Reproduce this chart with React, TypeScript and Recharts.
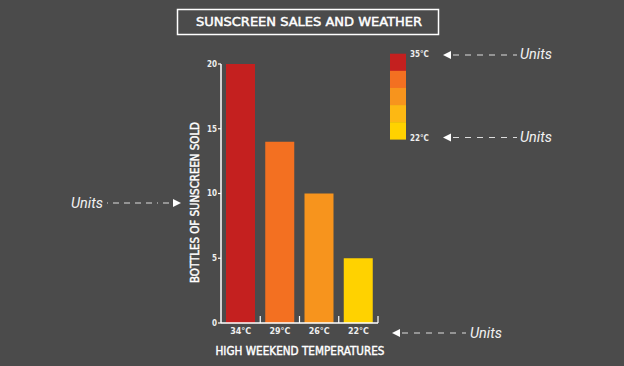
import React from 'react';
import { BarChart, Bar, XAxis, YAxis, Cell } from 'recharts';

const categories = ['34°C', '29°C', '26°C', '22°C'];
const bottlesSold = [20, 14, 10, 5];
const barColors = ['#C4201F', '#F37021', '#F7941D', '#FFD200'];
const yTicks = [0, 5, 10, 15, 20];
const scaleColors = ['#C4201F', '#F37021', '#F7941D', '#FDB813', '#FFD200'];
const scaleLabels = ['35°C', '22°C'];
const title = 'SUNSCREEN SALES AND WEATHER';
const xLabel = 'HIGH WEEKEND TEMPERATURES';
const yLabel = 'BOTTLES OF SUNSCREEN SOLD';
const unitText = 'Units';

const data = categories.map((c, i) => ({ temp: c, bottles: bottlesSold[i] }));

const COND = "'DejaVu Sans Condensed', 'DejaVu Sans', sans-serif";
const BG = '#4b4b4b';
const FG = '#ffffff';

const XTick = (props: any) => {
  const { x, y, payload } = props;
  const half = payload && typeof payload.offset === 'number' ? payload.offset : 19.6;
  const edge = x + half;
  return (
    <g>
      <line x1={edge} x2={edge} y1={y} y2={y - 7} stroke={FG} strokeWidth={1.2} />
      <text x={x} y={y + 11} textAnchor="middle" fill="#eeeeee" fontSize={8} fontWeight="bold" fontFamily={COND} textLength={21} lengthAdjust="spacingAndGlyphs">
        {payload.value}
      </text>
    </g>
  );
};

const LeftArrow = ({ x, y, len }: { x: number; y: number; len: number }) => (
  <g>
    <polygon points={`${x},${y} ${x + 8},${y - 4} ${x + 8},${y + 4}`} fill={FG} />
    <line x1={x + 10} x2={x + 10 + len} y1={y} y2={y} stroke="#dddddd" strokeWidth={1.2} strokeDasharray="6 6" />
  </g>
);

const RightArrow = ({ x, y, len }: { x: number; y: number; len: number }) => (
  <g>
    <line x1={x - 10 - len} x2={x - 10} y1={y} y2={y} stroke="#dddddd" strokeWidth={1.2} strokeDasharray="1 5 6 5 6 5 6 5 6 5" />
    <polygon points={`${x},${y} ${x - 8},${y - 4} ${x - 8},${y + 4}`} fill={FG} />
  </g>
);

const UnitLabel = ({ x, y }: { x: number; y: number }) => (
  <text x={x} y={y} fill="#f2f2f2" fontSize={14} fontStyle="italic" fontFamily="Roboto, 'Open Sans', sans-serif" textLength={32} lengthAdjust="spacingAndGlyphs">
    {unitText}
  </text>
);

export default function App() {
  const segH = 85.6 / scaleColors.length;
  return (
    <div style={{ position: 'absolute', left: 0, top: 0, width: 624, height: 366, background: BG, overflow: 'hidden' }}>
      <BarChart width={624} height={366} data={data} margin={{ top: 64, right: 246, bottom: 13, left: 0 }}>
        <XAxis
          dataKey="temp"
          height={30}
          tickLine={false}
          tickSize={0}
          tickMargin={0}
          axisLine={{ stroke: FG, strokeWidth: 1.5 }}
          tick={<XTick />}
          interval={0}
        />
        <YAxis
          width={221}
          domain={[0, 20]}
          ticks={yTicks}
          tickSize={3}
          tickMargin={1}
          axisLine={{ stroke: FG, strokeWidth: 1.5 }}
          tickLine={{ stroke: FG, strokeWidth: 1.2 }}
          tick={{ fill: '#eeeeee', fontSize: 8, fontWeight: 'bold', fontFamily: COND }}
        />
        <Bar dataKey="bottles" barSize={29} isAnimationActive={false}>
          {data.map((d, i) => (
            <Cell key={d.temp} fill={barColors[i]} />
          ))}
        </Bar>
      </BarChart>
      <svg width={624} height={366} style={{ position: 'absolute', left: 0, top: 0, pointerEvents: 'none' }}>
        <rect x={177.5} y={9.5} width={261} height={25} fill="none" stroke={FG} strokeWidth={1.5} />
        <text x={309} y={26} textAnchor="middle" fill={FG} stroke={FG} strokeWidth={0.45} fontSize={13} fontFamily={COND} textLength={226} lengthAdjust="spacingAndGlyphs">
          {title}
        </text>
        <text x={300} y={355} textAnchor="middle" fill={FG} stroke={FG} strokeWidth={0.4} fontSize={11.5} fontFamily={COND} textLength={169} lengthAdjust="spacingAndGlyphs">
          {xLabel}
        </text>
        <text x={0} y={0} transform="translate(199,202.5) rotate(-90)" textAnchor="middle" fill={FG} stroke={FG} strokeWidth={0.4} fontSize={12} fontFamily={COND} textLength={161} lengthAdjust="spacingAndGlyphs">
          {yLabel}
        </text>
        {scaleColors.map((c, i) => (
          <rect key={c} x={390} y={53.7 + i * segH} width={16} height={segH + 0.3} fill={c} />
        ))}
        <text x={410} y={57} fill="#eeeeee" fontSize={8} fontWeight="bold" fontFamily={COND}>{scaleLabels[0]}</text>
        <text x={410} y={141} fill="#eeeeee" fontSize={8} fontWeight="bold" fontFamily={COND}>{scaleLabels[1]}</text>
        <LeftArrow x={443} y={55} len={64} />
        <UnitLabel x={520} y={59} />
        <LeftArrow x={443} y={137.5} len={64} />
        <UnitLabel x={520} y={142} />
        <RightArrow x={181} y={203} len={64} />
        <UnitLabel x={71} y={208} />
        <LeftArrow x={392} y={333} len={64} />
        <UnitLabel x={470} y={338} />
      </svg>
    </div>
  );
}
